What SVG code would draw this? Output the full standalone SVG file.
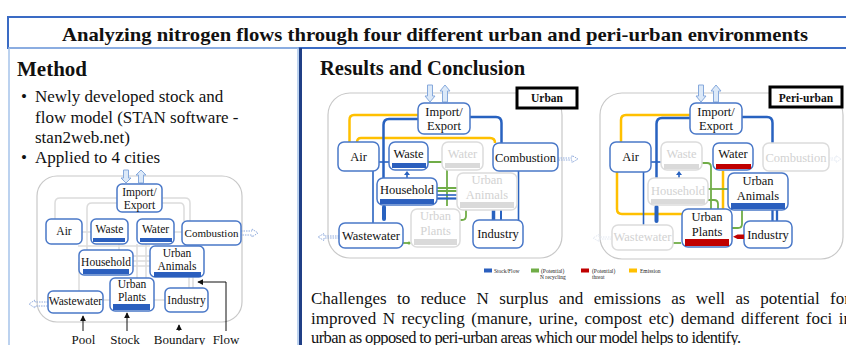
<svg xmlns="http://www.w3.org/2000/svg" width="846" height="345" viewBox="0 0 846 345">
<defs>
<style>
.n{fill:#fff;stroke:#4A78C8;stroke-width:1.5}
.nf{fill:#fff;stroke:#DCDCDC;stroke-width:1.5}
.t{font-family:"Liberation Serif","Times New Roman",serif;fill:#111;text-anchor:middle}
.tf{fill:#D2D2D2}
.s11{font-size:11.5px}
.s12{font-size:12.5px}
.bar{fill:#2B5FBE}
.barf{fill:#DADADA}
.red{fill:#C00000}
.gl{fill:none;stroke:#DCDCDC;stroke-width:1.5}
.fb{fill:none;stroke:#2862C0;stroke-width:2.5}
.fbt{fill:none;stroke:#2862C0;stroke-width:1.6}
.fo{fill:none;stroke:#FFC000;stroke-width:2.5}
.fg{fill:none;stroke:#70AD47;stroke-width:1.8}
.bd{fill:none;stroke:#C8C8C8;stroke-width:1.2}
.ha{fill:#DCE9F8;stroke:#86A9DC;stroke-width:1}
.da{fill:none;stroke:#8FAADC;stroke-width:1;stroke-dasharray:1.5 1}
.daf{fill:none;stroke:#E2E8F2;stroke-width:1;stroke-dasharray:1.5 1}
.ptr{fill:none;stroke:#111;stroke-width:1}
.body{font-family:"Liberation Serif","Times New Roman",serif;fill:#111}
.lg{font-family:"Liberation Serif","Times New Roman",serif;font-size:5.5px;fill:#222}
</style>
<marker id="ah" viewBox="0 0 8 8" refX="7" refY="4" markerWidth="6" markerHeight="6" orient="auto">
<path d="M0,0 L8,4 L0,8 Z" fill="#111"/>
</marker>
</defs>
<rect width="846" height="345" fill="#fff"/>

<g id="frames">
<rect x="8" y="17" width="850" height="31" fill="#fff" stroke="#3A6BC4" stroke-width="2"/>
<rect x="9" y="48" width="289" height="302" fill="none" stroke="#A7C4EA" stroke-width="1.5"/>
<line x1="300.5" y1="48" x2="300.5" y2="345" stroke="#203F86" stroke-width="3"/>
</g>

<text x="435" y="41" font-family="Liberation Serif,Times New Roman,serif" font-weight="bold" font-size="19" text-anchor="middle" textLength="746" lengthAdjust="spacingAndGlyphs" fill="#111">Analyzing nitrogen flows through four different urban and peri-urban environments</text>

<g id="method-text" class="body">
<text x="17" y="76" font-size="21" font-weight="bold">Method</text>
<text x="21" y="102" font-size="17">•</text>
<text x="35" y="102" font-size="17">Newly developed stock and</text>
<text x="35" y="123" font-size="17">flow model (STAN software -</text>
<text x="35" y="143" font-size="17">stan2web.net)</text>
<text x="21" y="163" font-size="17">•</text>
<text x="35" y="163" font-size="17">Applied to 4 cities</text>
</g>

<g id="method-diagram">
<rect class="bd" x="37" y="176" width="205" height="146" rx="20"/>
<g id="m-lines">
<path class="gl" d="M117,198 H60 Q55,198 55,203 V219"/>
<path class="gl" d="M162,198 H185 Q190,198 190,203 V221"/>
<path class="gl" d="M117,203 H92 Q87,203 87,208 V250"/>
<path class="gl" d="M162,203 H180 Q184,203 184,208 V221"/>
<path class="gl" d="M82,232 H91"/>
<path class="gl" d="M174,232 H182"/>
<path class="gl" d="M78,246 H150"/>
<path class="gl" d="M79,262 V291"/>
<path class="gl" d="M133,256 H150 M133,261 H150 M133,266 H150"/>
<path class="gl" d="M137,244 V278"/>
<path class="gl" d="M146,244 V278"/>
<path class="gl" d="M119,244 V250"/>
<path class="gl" d="M189,277 V288 M193,277 V288"/>
<path class="gl" d="M103,300 H110"/>
<path class="gl" d="M154,300 H165"/>
</g>
<path class="ha" d="M123.5,170 H128.5 V178 H131 L126,183 L121,178 H123.5 Z"/>
<path class="ha" d="M141,170 L146,175 H143.5 V183 H138.5 V175 H136 Z"/>
<path class="da" d="M241,231 H252 V229 L258,233 L252,237 V235 H241"/>
<path class="da" d="M48,302 H35 V300 L29,304 L35,308 V306 H48"/>
<g id="m-import"><rect class="n" x="117" y="184" width="45" height="28" rx="5"/><text class="t s11" x="139.5" y="196">Import/</text><text class="t s11" x="139.5" y="209">Export</text></g>
<g id="m-air"><rect class="n" x="46" y="219" width="36" height="25" rx="5"/><text class="t s11" x="64" y="235">Air</text></g>
<g id="m-waste"><rect class="n" x="91" y="219" width="37" height="25" rx="5"/><rect class="bar" x="93" y="238" width="32" height="4"/><text class="t s11" x="109.5" y="233">Waste</text></g>
<g id="m-water"><rect class="n" x="137" y="219" width="37" height="25" rx="5"/><rect class="bar" x="140" y="238" width="32" height="4"/><text class="t s11" x="155.5" y="233">Water</text></g>
<g id="m-combustion"><rect class="n" x="182" y="221" width="59" height="24" rx="5"/><text class="t" x="211.5" y="237" font-size="11">Combustion</text></g>
<g id="m-household"><rect class="n" x="79" y="250" width="54" height="25" rx="5"/><rect class="bar" x="83" y="269" width="46" height="5"/><text class="t s11" x="106" y="266">Household</text></g>
<g id="m-animals"><rect class="n" x="150" y="246" width="54" height="31" rx="5"/><rect class="bar" x="154" y="272" width="47" height="5"/><text class="t s11" x="177" y="257">Urban</text><text class="t s11" x="177" y="270">Animals</text></g>
<g id="m-plants"><rect class="n" x="110" y="278" width="44" height="33" rx="5"/><rect class="bar" x="113" y="304" width="37" height="6"/><text class="t s11" x="132" y="288">Urban</text><text class="t s11" x="132" y="301">Plants</text></g>
<g id="m-wastewater"><rect class="n" x="48" y="291" width="55" height="22" rx="5"/><text class="t s11" x="75.5" y="305">Wastewater</text></g>
<g id="m-industry"><rect class="n" x="165" y="288" width="43" height="24" rx="5"/><text class="t s11" x="186.5" y="304">Industry</text></g>
<g id="m-pointers">
<path class="ptr" d="M83,331 V316" marker-end="url(#ah)"/>
<path class="ptr" d="M127,331 V313" marker-end="url(#ah)"/>
<path class="ptr" d="M179,331 V325" marker-end="url(#ah)"/>
<path class="ptr" d="M226,331 V282 H198" marker-end="url(#ah)"/>
</g>
<g class="body" font-size="13" text-anchor="middle">
<text x="83.5" y="344">Pool</text>
<text x="125" y="344">Stock</text>
<text x="179.5" y="344">Boundary</text>
<text x="226" y="344">Flow</text>
</g>
</g>

<text class="body" x="320" y="75" font-size="20.5" font-weight="bold">Results and Conclusion</text>

<g id="urban-diagram">
<rect class="bd" x="328" y="93" width="234" height="165" rx="22"/>
<g id="u-label"><rect x="517" y="88" width="60" height="20" fill="#fff" stroke="#000" stroke-width="3"/><text class="t" x="547" y="102" font-size="11.5" font-weight="bold">Urban</text></g>
<path class="ha" d="M427.5,85 H432.5 V96 H435 L430,102 L425,96 H427.5 Z"/>
<path class="ha" d="M445,85 L450,91 H447.5 V102 H442.5 V91 H440 Z"/>
<path class="da" d="M558,158 H572 V155.5 L578,159 L572,162.5 V160 H558"/>
<path class="da" d="M339,236 H324 V233.5 L318,237 L324,240.5 V238 H339"/>
<g id="u-flows">
<path class="fo" d="M418,115 H354 Q349.5,115 349.5,120 V142"/>
<path class="fo" d="M357,142 V142.5 Q357,138 361,138 H490 Q495,138 495,143"/>
<path class="fb" d="M418,119 H389 Q383.5,119 383.5,125 V178"/>
<path class="fb" d="M470,117 H496 Q501.5,117 501.5,123 V143"/>
<path class="fbt" d="M379,162 H389"/>
<path class="fbt" d="M373,171 V223"/>
<path class="fbt" d="M407,178 V174"/>
<polygon points="404,175 410,175 407,171" fill="#2862C0"/>
<path d="M384,207 V219" fill="none" stroke="#2862C0" stroke-width="4" stroke-linecap="round"/>
<path class="fg" d="M428,162 H442 Q447,162 447,167 V206"/>
<path class="fg" d="M437,188 H457 M437,191 H457"/>
<path class="fbt" d="M437,195 H457"/>
<path d="M437,198.5 H457" stroke="#2862C0" stroke-width="2.2"/>
<path class="fg" d="M466,210 V216 Q466,220 462,220 H460"/>
<path class="fg" d="M403,243 H409"/>
<circle cx="409" cy="243" r="1.6" fill="#70AD47"/>
<path d="M493.5,210 V220" stroke="#2862C0" stroke-width="3.5"/>
<path d="M501,210 V220" stroke="#2862C0" stroke-width="2"/>
<path class="fbt" d="M518.5,171 V220"/>
</g>
<g id="u-import"><rect class="n" x="418" y="103" width="52" height="31" rx="6"/><text class="t s12" x="444" y="116">Import/</text><text class="t s12" x="444" y="130">Export</text></g>
<g id="u-air"><rect class="n" x="338" y="142" width="41" height="29" rx="6"/><text class="t s12" x="358.5" y="161">Air</text></g>
<g id="u-waste"><rect class="n" x="389" y="142" width="39" height="28" rx="6"/><rect class="bar" x="392" y="163" width="34" height="5"/><text class="t s12" x="408.5" y="158">Waste</text></g>
<g id="u-water"><rect class="nf" x="442" y="142" width="41" height="28" rx="6"/><rect class="barf" x="445" y="163" width="35" height="5"/><text class="t s12 tf" x="462.5" y="158">Water</text></g>
<g id="u-combustion"><rect class="n" x="493" y="143" width="65" height="28" rx="6"/><text class="t s12" x="525.5" y="162">Combustion</text></g>
<g id="u-household"><rect class="n" x="377" y="178" width="60" height="27" rx="6"/><rect class="bar" x="380" y="199" width="54" height="5"/><text class="t s12" x="407" y="194">Household</text></g>
<g id="u-animals"><rect class="nf" x="457" y="173" width="60" height="37" rx="6"/><rect class="barf" x="460" y="202" width="54" height="6"/><text class="t s12 tf" x="487" y="184">Urban</text><text class="t s12 tf" x="487" y="199">Animals</text></g>
<g id="u-plants"><rect class="nf" x="411" y="209" width="49" height="38" rx="6"/><rect class="barf" x="414" y="239" width="43" height="6"/><text class="t s12 tf" x="435.5" y="220">Urban</text><text class="t s12 tf" x="435.5" y="235">Plants</text></g>
<g id="u-wastewater"><rect class="n" x="339" y="223" width="64" height="25" rx="6"/><text class="t s12" x="371" y="240">Wastewater</text></g>
<g id="u-industry"><rect class="n" x="473" y="220" width="50" height="28" rx="6"/><text class="t s12" x="498" y="238">Industry</text></g>
</g>

<g id="peri-diagram">
<rect class="bd" x="600" y="93" width="243" height="166" rx="22"/>
<g id="p-label"><rect x="770" y="87" width="72" height="20" fill="#fff" stroke="#000" stroke-width="3"/><text class="t" x="806" y="102" font-size="11.5" font-weight="bold">Peri-urban</text></g>
<path class="ha" d="M698.5,85 H703.5 V96 H706 L701,102 L696,96 H698.5 Z"/>
<path class="ha" d="M716,85 L721,91 H718.5 V102 H713.5 V91 H711 Z"/>
<path class="daf" d="M829,158 H836 V155.5 L841,159 L836,162.5 V160 H829"/>
<path class="daf" d="M612,237 H599 V234.5 L593,238 L599,241.5 V239 H612"/>
<g id="p-flows">
<path class="fo" d="M690,115 H626 Q621,115 621,120 V142"/>
<path class="fo" d="M617,172 V209 Q617,214 622,214 H718 Q723,214 723,209 V171"/>
<path class="fb" d="M690,118 H662 Q656.5,118 656.5,124 V178"/>
<path d="M656.5,207 V221" fill="none" stroke="#2862C0" stroke-width="4" stroke-linecap="round"/>
<path class="fb" d="M742,117 H767 Q772.5,117 772.5,123 V143"/>
<path class="fbt" d="M651,162 H661"/>
<path class="fbt" d="M643.5,172 V225"/>
<path class="fbt" d="M679,178 V174"/>
<polygon points="676,175 682,175 679,171" fill="#2862C0"/>
<path class="fg" d="M702,163 H707 Q711,163 711,167 V209"/>
<path class="fg" d="M708,189 H728"/>
<path class="fg" d="M708,200 H714 Q718,200 718,204 V209"/>
<path class="fg" d="M742,210 V224 Q742,228 738,228 H732"/>
<path class="fg" d="M673,243 H681"/>
<path d="M772.5,210 V221 M777,210 V221" stroke="#2862C0" stroke-width="2.3"/>
</g>
<g id="p-import"><rect class="n" x="690" y="103" width="52" height="31" rx="6"/><text class="t s12" x="716" y="116">Import/</text><text class="t s12" x="716" y="130">Export</text></g>
<g id="p-air"><rect class="n" x="610" y="142" width="41" height="30" rx="6"/><text class="t s12" x="630.5" y="161">Air</text></g>
<g id="p-waste"><rect class="nf" x="661" y="142" width="41" height="28" rx="6"/><rect class="barf" x="664" y="164" width="35" height="5"/><text class="t s12 tf" x="681.5" y="158">Waste</text></g>
<g id="p-water"><rect class="n" x="713" y="143" width="40" height="27" rx="6"/><rect class="red" x="716" y="164" width="35" height="5"/><text class="t s12" x="733" y="158">Water</text></g>
<g id="p-combustion"><rect class="nf" x="763" y="143" width="66" height="28" rx="6"/><text class="t s12 tf" x="796" y="162">Combustion</text></g>
<g id="p-household"><rect class="nf" x="648" y="178" width="60" height="27" rx="6"/><rect class="barf" x="651" y="199" width="54" height="5"/><text class="t s12 tf" x="678" y="195">Household</text></g>
<g id="p-animals"><rect class="n" x="728" y="173" width="60" height="37" rx="6"/><rect class="bar" x="731" y="203" width="54" height="6"/><text class="t s12" x="758" y="185">Urban</text><text class="t s12" x="758" y="200">Animals</text></g>
<g id="p-plants"><rect class="n" x="682" y="209" width="50" height="38" rx="6"/><rect class="red" x="685" y="239" width="44" height="7"/><text class="t s12" x="707" y="221">Urban</text><text class="t s12" x="707" y="236">Plants</text></g>
<g id="p-wastewater"><rect class="nf" x="612" y="225" width="61" height="25" rx="6"/><text class="t s12 tf" x="642.5" y="241">Wastewater</text></g>
<g id="p-industry"><rect class="n" x="744" y="221" width="48" height="27" rx="6"/><text class="t s12" x="768" y="239">Industry</text></g>
<path id="p-threat" d="M744,234.5 H737.5 L733,236.8 L737.5,239 H744 Z" class="red"/>
</g>

<g id="legend">
<rect x="484" y="268.5" width="8" height="4" fill="#2B5FBE"/>
<text class="lg" x="494" y="272.5">Stock/Flow</text>
<rect x="531" y="268.5" width="8" height="4" fill="#70AD47"/>
<text class="lg" x="541" y="272.5">(Potential)</text>
<text class="lg" x="540" y="278.5">N recycling</text>
<rect x="581" y="268.5" width="8" height="4" fill="#C00000"/>
<text class="lg" x="592" y="272.5">(Potential)</text>
<text class="lg" x="592" y="278.5">threat</text>
<rect x="629" y="268.5" width="8" height="4" fill="#FFC000"/>
<text class="lg" x="640" y="272.5">Emission</text>
</g>

<g id="conclusion" class="body" font-size="17">
<text x="311" y="304" word-spacing="6.2">Challenges to reduce N surplus and emissions as well as potential for</text>
<text x="311" y="324" word-spacing="2.3">improved N recycling (manure, urine, compost etc) demand different foci in</text>
<text x="311" y="343" font-size="16.5" textLength="430" lengthAdjust="spacing">urban as opposed to peri-urban areas which our model helps to identify.</text>
</g>
</svg>
